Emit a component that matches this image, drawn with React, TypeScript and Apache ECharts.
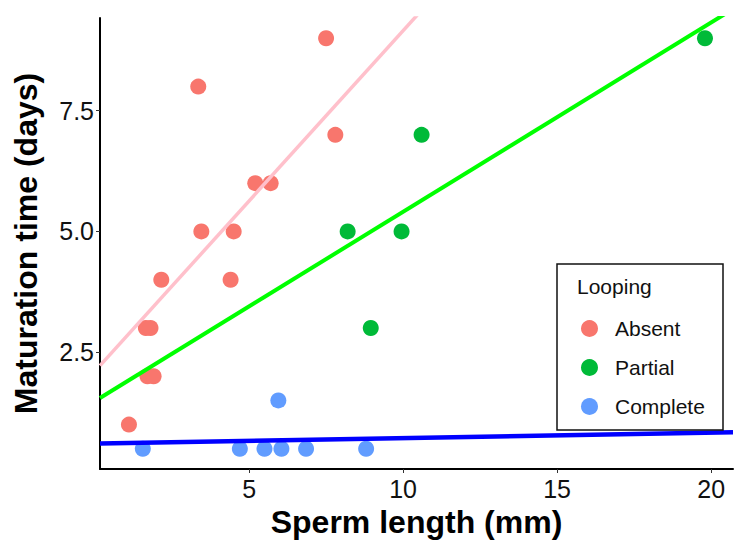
import React, { useEffect, useRef } from "react";
import * as echarts from "echarts";

const absentX = [1.1, 1.65, 1.8, 1.7, 1.9, 2.15, 3.35, 3.45, 4.4, 4.5, 5.2, 5.7, 7.5, 7.8];
const absentY = [1, 3, 3, 2, 2, 4, 8, 5, 4, 5, 6, 6, 9, 7];
const partialX = [8.2, 8.95, 9.95, 10.6, 19.8];
const partialY = [5, 3, 5, 7, 9];
const completeX = [1.55, 4.7, 5.5, 6.05, 5.95, 6.85, 8.8];
const completeY = [0.5, 0.5, 0.5, 0.5, 1.5, 0.5, 0.5];

// Fitted regression lines (intercept, slope)
const groupNames = ["Absent", "Partial", "Complete"];
const fitIntercepts = [2.107, 1.487, 0.604];
const fitSlopes = [0.705, 0.392, 0.0114];

// Axis extents and ticks
const xMin = 0.16;
const xMax = 20.71;
const yMin = 0.08;
const yMax = 9.42;
const xTicks = [5, 10, 15, 20];
const yTicks = [2.5, 5, 7.5];

const pointColors = ["#F8766D", "#00BA38", "#619CFF"];
const lineColors = ["#FFC0CB", "#00FF00", "#0000FF"];
const lineWidths = [3.5, 4, 4.5];

const FONT = "'Liberation Sans', Arial, Helvetica, sans-serif";

function zip(xs: number[], ys: number[]) {
  return xs.map((x, i) => [x, ys[i]]);
}

export default function App() {
  const ref = useRef<HTMLDivElement>(null);

  useEffect(() => {
    if (!ref.current) return;
    const chart = echarts.init(ref.current, undefined, { renderer: "svg" });
    const groups = [zip(absentX, absentY), zip(partialX, partialY), zip(completeX, completeY)];

    const scatterSeries = groups.map((d, i) => ({
      name: groupNames[i],
      type: "scatter",
      data: d,
      symbol: "circle",
      symbolSize: 16,
      itemStyle: { color: pointColors[i], opacity: 1 },
      z: 2,
    }));

    const lineSeries = groupNames.map((g, i) => ({
      name: g + " fit",
      type: "line",
      data: [
        [xMin, fitIntercepts[i] + fitSlopes[i] * xMin],
        [xMax, fitIntercepts[i] + fitSlopes[i] * xMax],
      ],
      showSymbol: false,
      symbol: "none",
      clip: true,
      lineStyle: { color: lineColors[i], width: lineWidths[i] },
      z: 3,
    }));

    chart.setOption({
      animation: false,
      backgroundColor: "#ffffff",
      grid: { left: 100, right: 16, top: 18, bottom: 78, containLabel: false },
      xAxis: {
        type: "value",
        min: xMin,
        max: xMax,
        name: "Sperm length (mm)",
        nameLocation: "middle",
        nameGap: 36,
        nameTextStyle: { fontFamily: FONT, fontSize: 32, fontWeight: "bold", color: "#000" },
        axisLine: { show: true, onZero: false, lineStyle: { color: "#000", width: 2 } },
        axisTick: { show: true, length: 4, customValues: xTicks, lineStyle: { color: "#333", width: 1 } },
        axisLabel: {
          customValues: xTicks,
          fontFamily: FONT,
          fontSize: 25,
          color: "#111",
          margin: 7,
        },
        splitLine: { show: false },
      },
      yAxis: {
        type: "value",
        min: yMin,
        max: yMax,
        name: "Maturation time (days)",
        nameLocation: "middle",
        nameGap: 58,
        nameTextStyle: { fontFamily: FONT, fontSize: 32, fontWeight: "bold", color: "#000" },
        axisLine: { show: true, onZero: false, lineStyle: { color: "#000", width: 2 } },
        axisTick: { show: true, length: 4, customValues: yTicks, lineStyle: { color: "#333", width: 1 } },
        axisLabel: {
          customValues: yTicks,
          formatter: (v: number) => v.toFixed(1),
          fontFamily: FONT,
          fontSize: 25,
          color: "#111",
          margin: 6,
        },
        splitLine: { show: false },
      },
      legend: {
        data: groupNames,
        orient: "vertical",
        left: 576,
        top: 313,
        itemWidth: 17,
        itemHeight: 17,
        itemGap: 18,
        icon: "circle",
        selectedMode: false,
        textStyle: { fontFamily: FONT, fontSize: 21, color: "#111", padding: [0, 0, 0, 12] },
        z: 10,
      },
      graphic: [
        {
          type: "rect",
          shape: { x: 557, y: 264, width: 166, height: 166 },
          style: { fill: "#fff", stroke: "#111", lineWidth: 1.5 },
          z: 8,
        },
        {
          type: "text",
          x: 577,
          y: 286,
          style: {
            text: "Looping",
            fontFamily: FONT,
            fontSize: 21,
            fill: "#111",
            verticalAlign: "middle",
          },
          z: 9,
        },
      ],
      series: [...scatterSeries, ...lineSeries],
    });

    return () => chart.dispose();
  }, []);

  return (
    <div
      ref={ref}
      style={{ position: "fixed", left: 0, top: 0, width: 749, height: 547 }}
    />
  );
}
